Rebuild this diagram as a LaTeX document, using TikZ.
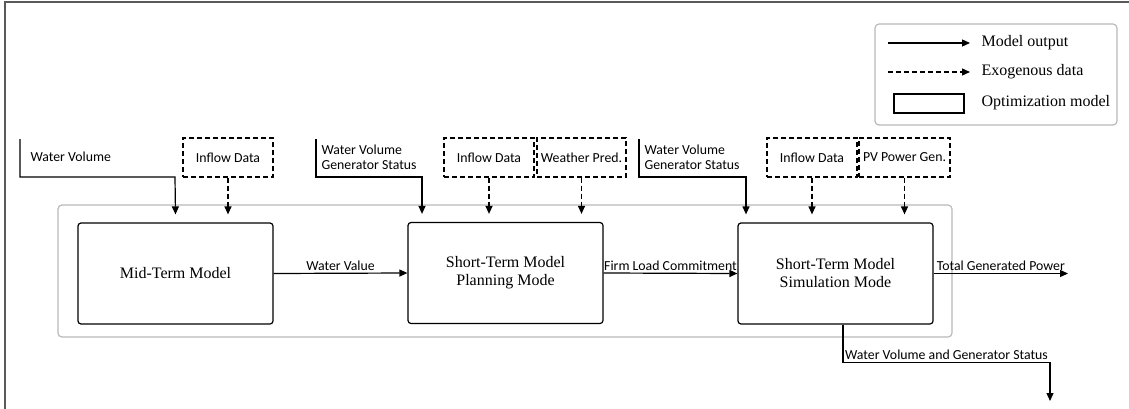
\documentclass[tikz,border=0pt]{standalone}
\usepackage{fontspec}
\setmainfont{Liberation Serif}
\newfontfamily\labelfont{Carlito}
\usetikzlibrary{positioning,arrows.meta}

\begin{document}
\begin{tikzpicture}[x=1pt,y=-1pt,>={Triangle[length=8pt,width=7pt]},line width=1.2pt,
  model/.style={draw,rounded corners=3pt,minimum width=195pt,minimum height=101pt,
    align=center,font=\fontsize{16}{18}\selectfont},
  exo/.style={draw,dashed,dash pattern=on 5pt off 3pt,inner sep=2pt,
    minimum width=90pt,minimum height=39pt,font=\labelfont\fontsize{13.8}{15}\selectfont},
  lbl/.style={font=\labelfont\fontsize{13.8}{15}\selectfont,align=left,inner sep=2pt},
  legtext/.style={font=\fontsize{16}{18}\selectfont,inner sep=2pt}]
  \useasboundingbox (0,0) rectangle (1129,409);
  % Outer frame (only top and left edges are visible).
  \draw[gray!70!black,line width=1.6pt] (5,409) -- (5,2) -- (1129,2);
  % Grey container round the three models.
  \draw[gray!55,rounded corners=4pt] (58,205) rectangle (952,337);
  % The three optimization models.
  \node[model] (mid)  at (175.5,273.5) {Mid-Term Model};
  \node[model] (plan) at (505.5,273)   {Short-Term Model\\Planning Mode};
  \node[model] (sim)  at (835.5,273.5) {Short-Term Model\\Simulation Mode};
  % Exogenous data boxes.
  \node[exo] (inflowa) at (228,157.5)  {Inflow Data};
  \node[exo] (inflowb) at (489,157.5)  {Inflow Data};
  \node[exo,minimum width=89pt] (weather) at (581.5,157.5) {Weather Pred.};
  \node[exo] (inflowc) at (812,157.5)  {Inflow Data};
  \node[exo,minimum width=91pt] (pvgen) at (904.5,157.5) {PV Power Gen.};
  % Model outputs fed in from above.
  \node[lbl,anchor=west] (wvmid)  at (28,157)  {Water Volume};
  \node[lbl,anchor=west] (wvplan) at (319,157) {Water Volume\\Generator Status};
  \node[lbl,anchor=west] (wvsim)  at (642,157) {Water Volume\\Generator Status};
  \coordinate (wvmids)  at (20,139);
  \coordinate (wvplans) at (316,139);
  \coordinate (wvsims)  at (639,139);
  \draw[->] (wvmids)  |- ++(155,38)  -- ([yshift=8pt]mid.north);
  \draw[->] (wvplans) |- ++(106,38)  -- ([xshift=-83.5pt,yshift=8pt]plan.north);
  \draw[->] (wvsims)  |- ++(107,38)  -- ([xshift=-89.5pt,yshift=8pt]sim.north);
  % Exogenous data arrows.
  \begin{scope}[dash pattern=on 5pt off 3pt]
    \draw[->] (inflowa.south) -- ([yshift=8pt]mid.north -| inflowa.south);
    \draw[->] (inflowb.south) -- ([yshift=8pt]plan.north -| inflowb.south);
    \draw[->] (weather.south) -- ([yshift=8pt]plan.north -| weather.south);
    \draw[->] (inflowc.south) -- ([yshift=8pt]sim.north -| inflowc.south);
    \draw[->] (pvgen.south)   -- ([yshift=8pt]sim.north -| pvgen.south);
  \end{scope}
  % Links between the models.
  \draw[->] (mid.east)  -- node[lbl,above] (wval) {Water Value} (plan.west);
  \draw[->] (plan.east) -- node[lbl,above] (flc) {Firm Load Commitment} (sim.west);
  \coordinate (tgpend) at (1068,273.5);
  \draw[->] (sim.east) -- node[lbl,above] (tgp) {Total Generated Power} (tgpend);
  \coordinate (wvgsend) at (1050,401);
  \draw[->] ([xshift=7.5pt]sim.south) |- node[lbl,above,pos=0.75] (wvgs) {Water Volume and Generator Status} ++(207,38) -- (wvgsend);
  % Legend.
  \draw[gray!55,rounded corners=4pt] (875,24) rectangle (1117,125);
  \node[legtext,anchor=west] (lgout) at (979,43)  {Model output};
  \node[legtext,anchor=west] (lgexo) at (979,72)  {Exogenous data};
  \node[legtext,anchor=west] (lgopt) at (979,103) {Optimization model};
  \node[draw,minimum width=70pt,minimum height=19pt] (lgbox) at (929,103.5) {};
  \coordinate (lgouts) at (888,43);
  \coordinate (lgexos) at (888,72);
  \draw[->] (lgouts) -- ([xshift=-9pt]lgout.west);
  \draw[->,dash pattern=on 5pt off 3pt] (lgexos) -- ([xshift=-9pt]lgexo.west);
\end{tikzpicture}
\end{document}
